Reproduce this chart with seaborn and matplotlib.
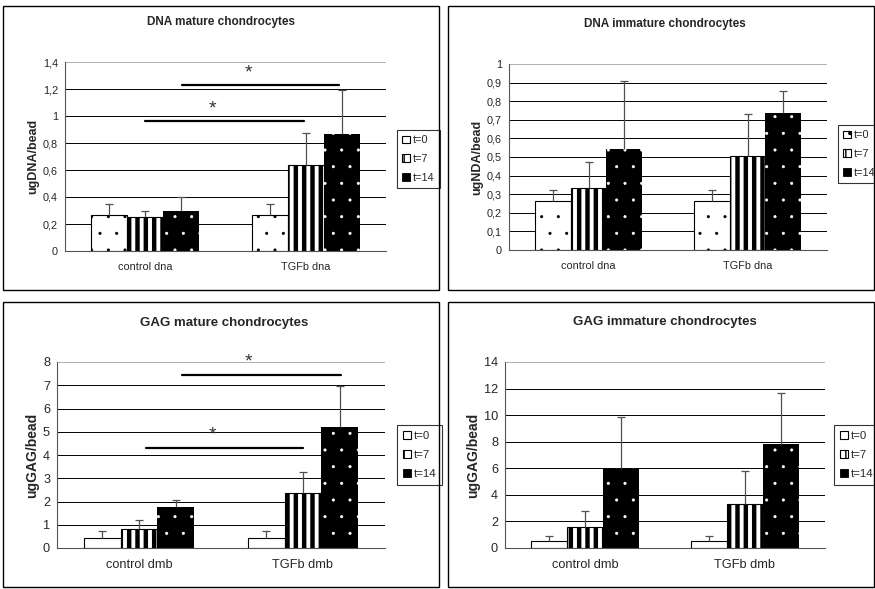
import pandas as pd
import seaborn as sns
import matplotlib.pyplot as plt
import matplotlib.patches as mpatches
import matplotlib.hatch as mhatch
from matplotlib.ticker import FuncFormatter, FixedLocator

# groups / series
TIMES = ["t=0", "t=7", "t=14"]
GROUPS_DNA = ["control dna", "TGFb dna"]
GROUPS_GAG = ["control dmb", "TGFb dmb"]

# rows = group, cols = t=0, t=7, t=14
DNA_MATURE_MEAN = [[0.27, 0.25, 0.30], [0.27, 0.635, 0.87]]
DNA_MATURE_SD = [[0.08, 0.05, 0.10], [0.08, 0.24, 0.32]]
DNA_IMMATURE_MEAN = [[0.265, 0.335, 0.545], [0.265, 0.505, 0.735]]
DNA_IMMATURE_SD = [[0.055, 0.14, 0.365], [0.055, 0.225, 0.12]]
GAG_MATURE_MEAN = [[0.44, 0.83, 1.75], [0.44, 2.35, 5.2]]
GAG_MATURE_SD = [[0.29, 0.38, 0.31], [0.29, 0.94, 1.78]]
GAG_IMMATURE_MEAN = [[0.53, 1.6, 6.0], [0.53, 3.32, 7.85]]
GAG_IMMATURE_SD = [[0.35, 1.17, 3.85], [0.35, 2.45, 3.8]]

# significance bars: (x start, x end, y line, star x, star y)
SIG_DNA_MATURE = [(0.0, 0.99, 0.963, 0.42, 1.05), (0.23, 1.21, 1.23, 0.64, 1.32)]
SIG_GAG_MATURE = [(0.04, 1.0, 4.3, 0.445, 4.85), (0.26, 1.23, 7.43, 0.665, 7.98)]

ERR_COLOR = "#505050"
W, H = 875, 589

# smaller dots for the '.' hatch
mhatch.SmallFilledCircles.size = 0.07


def style_bar(p, i):
    if i == 0:
        p.set_facecolor("white"); p.set_edgecolor("black"); p.set_hatch(".")
        p.set_linewidth(0.8); hl = 0.5
    elif i == 1:
        p.set_facecolor("white"); p.set_edgecolor("black"); p.set_hatch("||")
        p.set_linewidth(0.8); hl = 3.2
    else:
        p.set_facecolor("black"); p.set_edgecolor("white"); p.set_hatch(".")
        p.set_linewidth(0); hl = 0.5
    if hasattr(p, "set_hatch_linewidth"):
        p.set_hatch_linewidth(hl)


def fig_axes(fig, x0, x1, y0, y1):
    return fig.add_axes([x0 / W, (H - y1) / H, (x1 - x0) / W, (y1 - y0) / H])


def draw_panel(fig, box, axbox, title, title_xy, groups, means, sds, ymax, ystep,
               ylabel, legend_xy, fs, sig=None):
    tick_fs, title_fs, label_fs, leg_fs = fs
    # panel frame
    fig.add_artist(mpatches.Rectangle((box[0] / W, (H - box[3]) / H),
                                      (box[2] - box[0]) / W, (box[3] - box[1]) / H,
                                      transform=fig.transFigure, fill=False,
                                      edgecolor="black", linewidth=1.0))
    fig.text(title_xy[0] / W, (H - title_xy[1]) / H, title, ha="center", va="center",
             fontsize=title_fs, fontweight="bold")

    ax = fig_axes(fig, *axbox)
    rows = []
    for g, m_row, s_row in zip(groups, means, sds):
        for t, m, s in zip(TIMES, m_row, s_row):
            rows.append({"group": g, "time": t, "value": m, "sd": s})
    df = pd.DataFrame(rows)

    sns.barplot(data=df, x="group", y="value", hue="time", order=groups,
                hue_order=TIMES, width=0.67, gap=0, errorbar=None, legend=False,
                palette=["white", "white", "black"], saturation=1, ax=ax, zorder=2)

    for i, cont in enumerate(ax.containers):
        sub = df[df["time"] == TIMES[i]].set_index("group").loc[groups]
        xs = []
        for p in cont:
            style_bar(p, i)
            xs.append(p.get_x() + p.get_width() / 2)
        tops = sub["value"] + sub["sd"]
        ax.vlines(xs, sub["value"], tops, color=ERR_COLOR, lw=0.9, zorder=3)
        ax.plot(xs, tops, ls="none", marker="_", ms=6, mew=0.9, color=ERR_COLOR, zorder=3)

    ax.set_xlim(-0.5, 1.5)
    ax.set_ylim(0, ymax)
    n = int(round(ymax / ystep))
    ax.set_yticks([k * ystep for k in range(n + 1)])
    ax.yaxis.set_major_formatter(FuncFormatter(
        lambda v, _: ("%g" % round(v, 3)).replace(".", ",")))
    ax.xaxis.set_minor_locator(FixedLocator([-0.5, 0.5, 1.5]))
    ax.tick_params(axis="x", which="major", length=0, labelsize=tick_fs, pad=8)
    ax.tick_params(axis="x", which="minor", length=3, width=0.8, color="#555555")
    ax.tick_params(axis="y", length=3, width=0.8, color="#555555", labelsize=tick_fs, pad=2)
    ax.set_xlabel("")
    ax.set_ylabel(ylabel, fontsize=label_fs, fontweight="bold", labelpad=3)

    ax.set_axisbelow(True)
    ax.grid(axis="y", color="black", linewidth=0.7)
    ax.grid(axis="x", visible=False)
    ygl = ax.get_ygridlines()
    if ygl:
        ygl[-1].set_color("#b0b0b0")
    for s in ["top", "right"]:
        ax.spines[s].set_visible(False)
    for s in ["left", "bottom"]:
        ax.spines[s].set_color("#555555")
        ax.spines[s].set_linewidth(0.8)

    if sig:
        for x0, x1, yl, sx, sy in sig:
            ax.plot([x0, x1], [yl, yl], color="black", lw=1.6, clip_on=False, zorder=4)
            ax.text(sx, sy, "*", ha="center", va="center", fontsize=14,
                    color="#333333", clip_on=False)

    handles = []
    for i, t in enumerate(TIMES):
        h = mpatches.Patch(label=t)
        style_bar(h, i)
        if i == 2:
            h.set_linewidth(0.6); h.set_edgecolor("black")
            h.set_hatch(None)
        handles.append(h)
    leg = ax.legend(handles=handles, loc="upper left",
                    bbox_to_anchor=(legend_xy[0] / W, (H - legend_xy[1]) / H),
                    bbox_transform=fig.transFigure, fontsize=leg_fs, frameon=True,
                    fancybox=False, handlelength=0.7, handleheight=0.7,
                    handletextpad=0.3, labelspacing=0.8, borderpad=0.5,
                    borderaxespad=0)
    leg.get_frame().set_edgecolor("black")
    leg.get_frame().set_linewidth(0.8)
    return ax


def main():
    sns.set_theme(style="white")
    plt.rcParams["font.family"] = ["Liberation Sans", "DejaVu Sans"]

    fig = plt.figure(figsize=(W / 100, H / 100), dpi=100)

    top_fs = (7.8, 8.5, 9, 7.8)
    bot_fs = (9.2, 9.5, 10, 8.2)

    draw_panel(fig, (3, 6, 439, 290), (65, 386, 62, 251), "DNA mature chondrocytes",
               (221, 22), GROUPS_DNA, DNA_MATURE_MEAN, DNA_MATURE_SD, 1.4, 0.2,
               "ugDNA/bead", (397, 130), top_fs, SIG_DNA_MATURE)
    draw_panel(fig, (448, 6, 874, 290), (509, 827, 64, 250), "DNA immature chondrocytes",
               (665, 24), GROUPS_DNA, DNA_IMMATURE_MEAN, DNA_IMMATURE_SD, 1.0, 0.1,
               "ugNDA/bead", (838, 125), top_fs)
    draw_panel(fig, (3, 302, 439, 587), (57, 385, 362, 548), "GAG mature chondrocytes",
               (224, 323), GROUPS_GAG, GAG_MATURE_MEAN, GAG_MATURE_SD, 8, 1,
               "ugGAG/bead", (397, 425), bot_fs, SIG_GAG_MATURE)
    draw_panel(fig, (448, 302, 874, 587), (505, 825, 362, 548), "GAG immature chondrocytes",
               (665, 322), GROUPS_GAG, GAG_IMMATURE_MEAN, GAG_IMMATURE_SD, 14, 2,
               "ugGAG/bead", (834, 425), bot_fs)

    fig.savefig("out.png", dpi=100)


if __name__ == "__main__":
    main()
